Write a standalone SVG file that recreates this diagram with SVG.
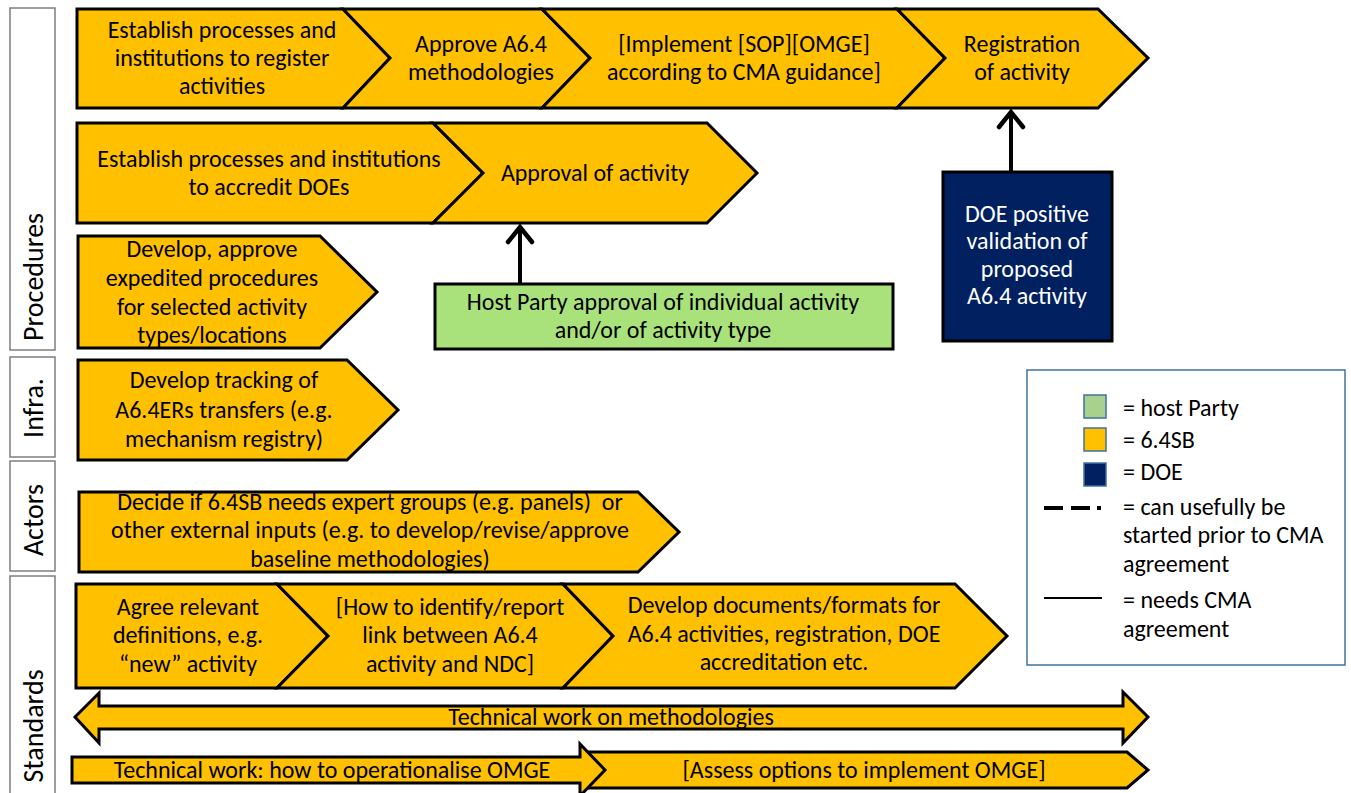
<svg xmlns="http://www.w3.org/2000/svg" width="1351" height="793" viewBox="0 0 1351 793">
  <style>
    text { font-family: Carlito, "Liberation Sans", sans-serif; font-size: 24px; fill: #000; text-anchor: middle; }
    .sb { fill: #FFC000; stroke: #000; stroke-width: 3; stroke-linejoin: miter; }
    .lane { fill: #fff; stroke: #7f7f7f; stroke-width: 1.5; }
    .lane-t { dominant-baseline: central; font-size: 28px; }
    .host { fill: #A9E27B; stroke: #000; stroke-width: 3; }
    .doe { fill: #002060; stroke: #000; stroke-width: 3; }
    .doe-t { fill: #fff; }
    .leg { text-anchor: start; }
    .conn { fill: none; stroke: #000; stroke-width: 4; }
  </style>
  <defs>
    <marker id="openhead" viewBox="0 0 24 30" refX="20" refY="15" markerWidth="24" markerHeight="30" markerUnits="userSpaceOnUse" orient="auto">
      <path d="M5,3 L20,15 L5,27" fill="none" stroke="#000" stroke-width="4.5" stroke-linecap="round" stroke-linejoin="miter"/>
    </marker>
  </defs>

  <!-- lane labels -->
  <g id="lane-procedures">
    <rect class="lane" x="10" y="8" width="45" height="342"/>
    <text class="lane-t" transform="translate(33,277) rotate(-90)">Procedures</text>
  </g>
  <g id="lane-infra">
    <rect class="lane" x="10" y="357" width="45" height="100"/>
    <text class="lane-t" transform="translate(33,408) rotate(-90)">Infra.</text>
  </g>
  <g id="lane-actors">
    <rect class="lane" x="10" y="461" width="45" height="110"/>
    <text class="lane-t" transform="translate(33,520) rotate(-90)">Actors</text>
  </g>
  <g id="lane-standards">
    <rect class="lane" x="10" y="576" width="45" height="220"/>
    <text class="lane-t" transform="translate(33,726) rotate(-90)">Standards</text>
  </g>

  <!-- procedures: row 1 -->
  <g id="establish-register">
    <polygon class="sb" points="77,9 343,9 390,58 343,108 77,108"/>
    <text x="222" y="38">Establish processes and</text>
    <text x="222" y="66">institutions to register</text>
    <text x="222" y="94">activities</text>
  </g>
  <g id="approve-methodologies">
    <polygon class="sb" points="343,9 542,9 590,58 542,108 343,108 390,58"/>
    <text x="481" y="52">Approve A6.4</text>
    <text x="481" y="80">methodologies</text>
  </g>
  <g id="implement-sop">
    <polygon class="sb" points="542,9 897,9 945,58 897,108 542,108 590,58"/>
    <text x="744" y="52">[Implement [SOP][OMGE]</text>
    <text x="744" y="80">according to CMA guidance]</text>
  </g>
  <g id="registration">
    <polygon class="sb" points="897,9 1098,9 1148,58 1098,108 897,108 945,58"/>
    <text x="1022" y="52">Registration</text>
    <text x="1022" y="80">of activity</text>
  </g>

  <!-- procedures: row 2 -->
  <g id="establish-accredit">
    <polygon class="sb" points="77,123 433,123 483,173 433,223 77,223"/>
    <text x="269" y="167">Establish processes and institutions</text>
    <text x="269" y="195">to accredit DOEs</text>
  </g>
  <g id="approval-activity">
    <polygon class="sb" points="433,123 707,123 757,173 707,223 433,223 483,173"/>
    <text x="595" y="181">Approval of activity</text>
  </g>

  <!-- procedures: row 3 -->
  <g id="expedited-procedures">
    <polygon class="sb" points="78,236 320,236 377,292 320,348 78,348"/>
    <text x="212" y="257">Develop, approve</text>
    <text x="212" y="286">expedited procedures</text>
    <text x="212" y="315">for selected activity</text>
    <text x="212" y="343">types/locations</text>
  </g>

  <g id="host-approval">
    <rect class="host" x="435" y="284" width="458" height="65"/>
    <text x="663" y="310">Host Party approval of individual activity</text>
    <text x="663" y="338">and/or of activity type</text>
  </g>

  <g id="doe-validation">
    <rect class="doe" x="943" y="172" width="169" height="169"/>
    <text class="doe-t" x="1027" y="222">DOE positive</text>
    <text class="doe-t" x="1027" y="249">validation of</text>
    <text class="doe-t" x="1027" y="277">proposed</text>
    <text class="doe-t" x="1027" y="304">A6.4 activity</text>
  </g>

  <!-- infrastructure -->
  <g id="tracking">
    <polygon class="sb" points="78,360 347,360 398,410 347,460 78,460"/>
    <text x="224" y="388">Develop tracking of</text>
    <text x="224" y="418">A6.4ERs transfers (e.g.</text>
    <text x="224" y="447">mechanism registry)</text>
  </g>

  <!-- actors -->
  <g id="expert-groups">
    <polygon class="sb" points="79,492 638,492 679,532 638,572 79,572"/>
    <text x="370" y="510">Decide if 6.4SB needs expert groups (e.g. panels)&#160; or</text>
    <text x="370" y="538">other external inputs (e.g. to develop/revise/approve</text>
    <text x="370" y="567">baseline methodologies)</text>
  </g>

  <!-- standards -->
  <g id="definitions">
    <polygon class="sb" points="76,584 277,584 328,636 277,688 76,688"/>
    <text x="188" y="615">Agree relevant</text>
    <text x="188" y="643">definitions, e.g.</text>
    <text x="188" y="672">“new” activity</text>
  </g>
  <g id="ndc-link">
    <polygon class="sb" points="277,584 563,584 613,636 563,688 277,688 328,636"/>
    <text x="450" y="615">[How to identify/report</text>
    <text x="450" y="643">link between A6.4</text>
    <text x="450" y="672">activity and NDC]</text>
  </g>
  <g id="documents-formats">
    <polygon class="sb" points="563,584 955,584 1007,636 955,688 563,688 613,636"/>
    <text x="784" y="613">Develop documents/formats for</text>
    <text x="784" y="642">A6.4 activities, registration, DOE</text>
    <text x="784" y="670">accreditation etc.</text>
  </g>

  <g id="methodologies-work">
    <polygon class="sb" points="75,717 99,693 99,706 1123,706 1123,692 1148,717 1123,743 1123,729 99,729 99,743"/>
    <text x="611" y="725">Technical work on methodologies</text>
  </g>

  <g id="assess-omge">
    <polygon class="sb" points="583,752 1127,752 1148,770 1127,788 583,788"/>
    <text x="864" y="778">[Assess options to implement OMGE]</text>
  </g>
  <g id="operationalise-omge">
    <polygon class="sb" points="72,757 580,757 580,744 605,770 580,796 580,783 72,783"/>
    <text x="332" y="778">Technical work: how to operationalise OMGE</text>
  </g>

  <!-- connectors -->
  <g id="connectors">
    <line class="conn" x1="520" y1="283" x2="520" y2="227" marker-end="url(#openhead)"/>
    <line class="conn" x1="1011" y1="171" x2="1011" y2="112" marker-end="url(#openhead)"/>
  </g>

  <!-- legend -->
  <g id="legend">
    <rect x="1027" y="370" width="318" height="295" fill="#fff" stroke="#41719C" stroke-width="1.5"/>
    <rect x="1084" y="395" width="22" height="23" fill="#A9D18E" stroke="#41719C" stroke-width="1.5"/>
    <rect x="1084" y="428" width="22" height="23" fill="#FFC000" stroke="#41719C" stroke-width="1.5"/>
    <rect x="1084" y="463" width="22" height="23" fill="#002060" stroke="#41719C" stroke-width="1.5"/>
    <text class="leg" x="1123" y="416">= host Party</text>
    <text class="leg" x="1123" y="448">= 6.4SB</text>
    <text class="leg" x="1123" y="480">= DOE</text>
    <line x1="1044" y1="508" x2="1102" y2="508" stroke="#000" stroke-width="4" stroke-dasharray="19,8,19,7,4,100"/>
    <text class="leg" x="1123" y="515">= can usefully be</text>
    <text class="leg" x="1123" y="543">started prior to CMA</text>
    <text class="leg" x="1123" y="572">agreement</text>
    <line x1="1044" y1="598" x2="1102" y2="598" stroke="#000" stroke-width="2"/>
    <text class="leg" x="1123" y="608">= needs CMA</text>
    <text class="leg" x="1123" y="637">agreement</text>
  </g>
</svg>
